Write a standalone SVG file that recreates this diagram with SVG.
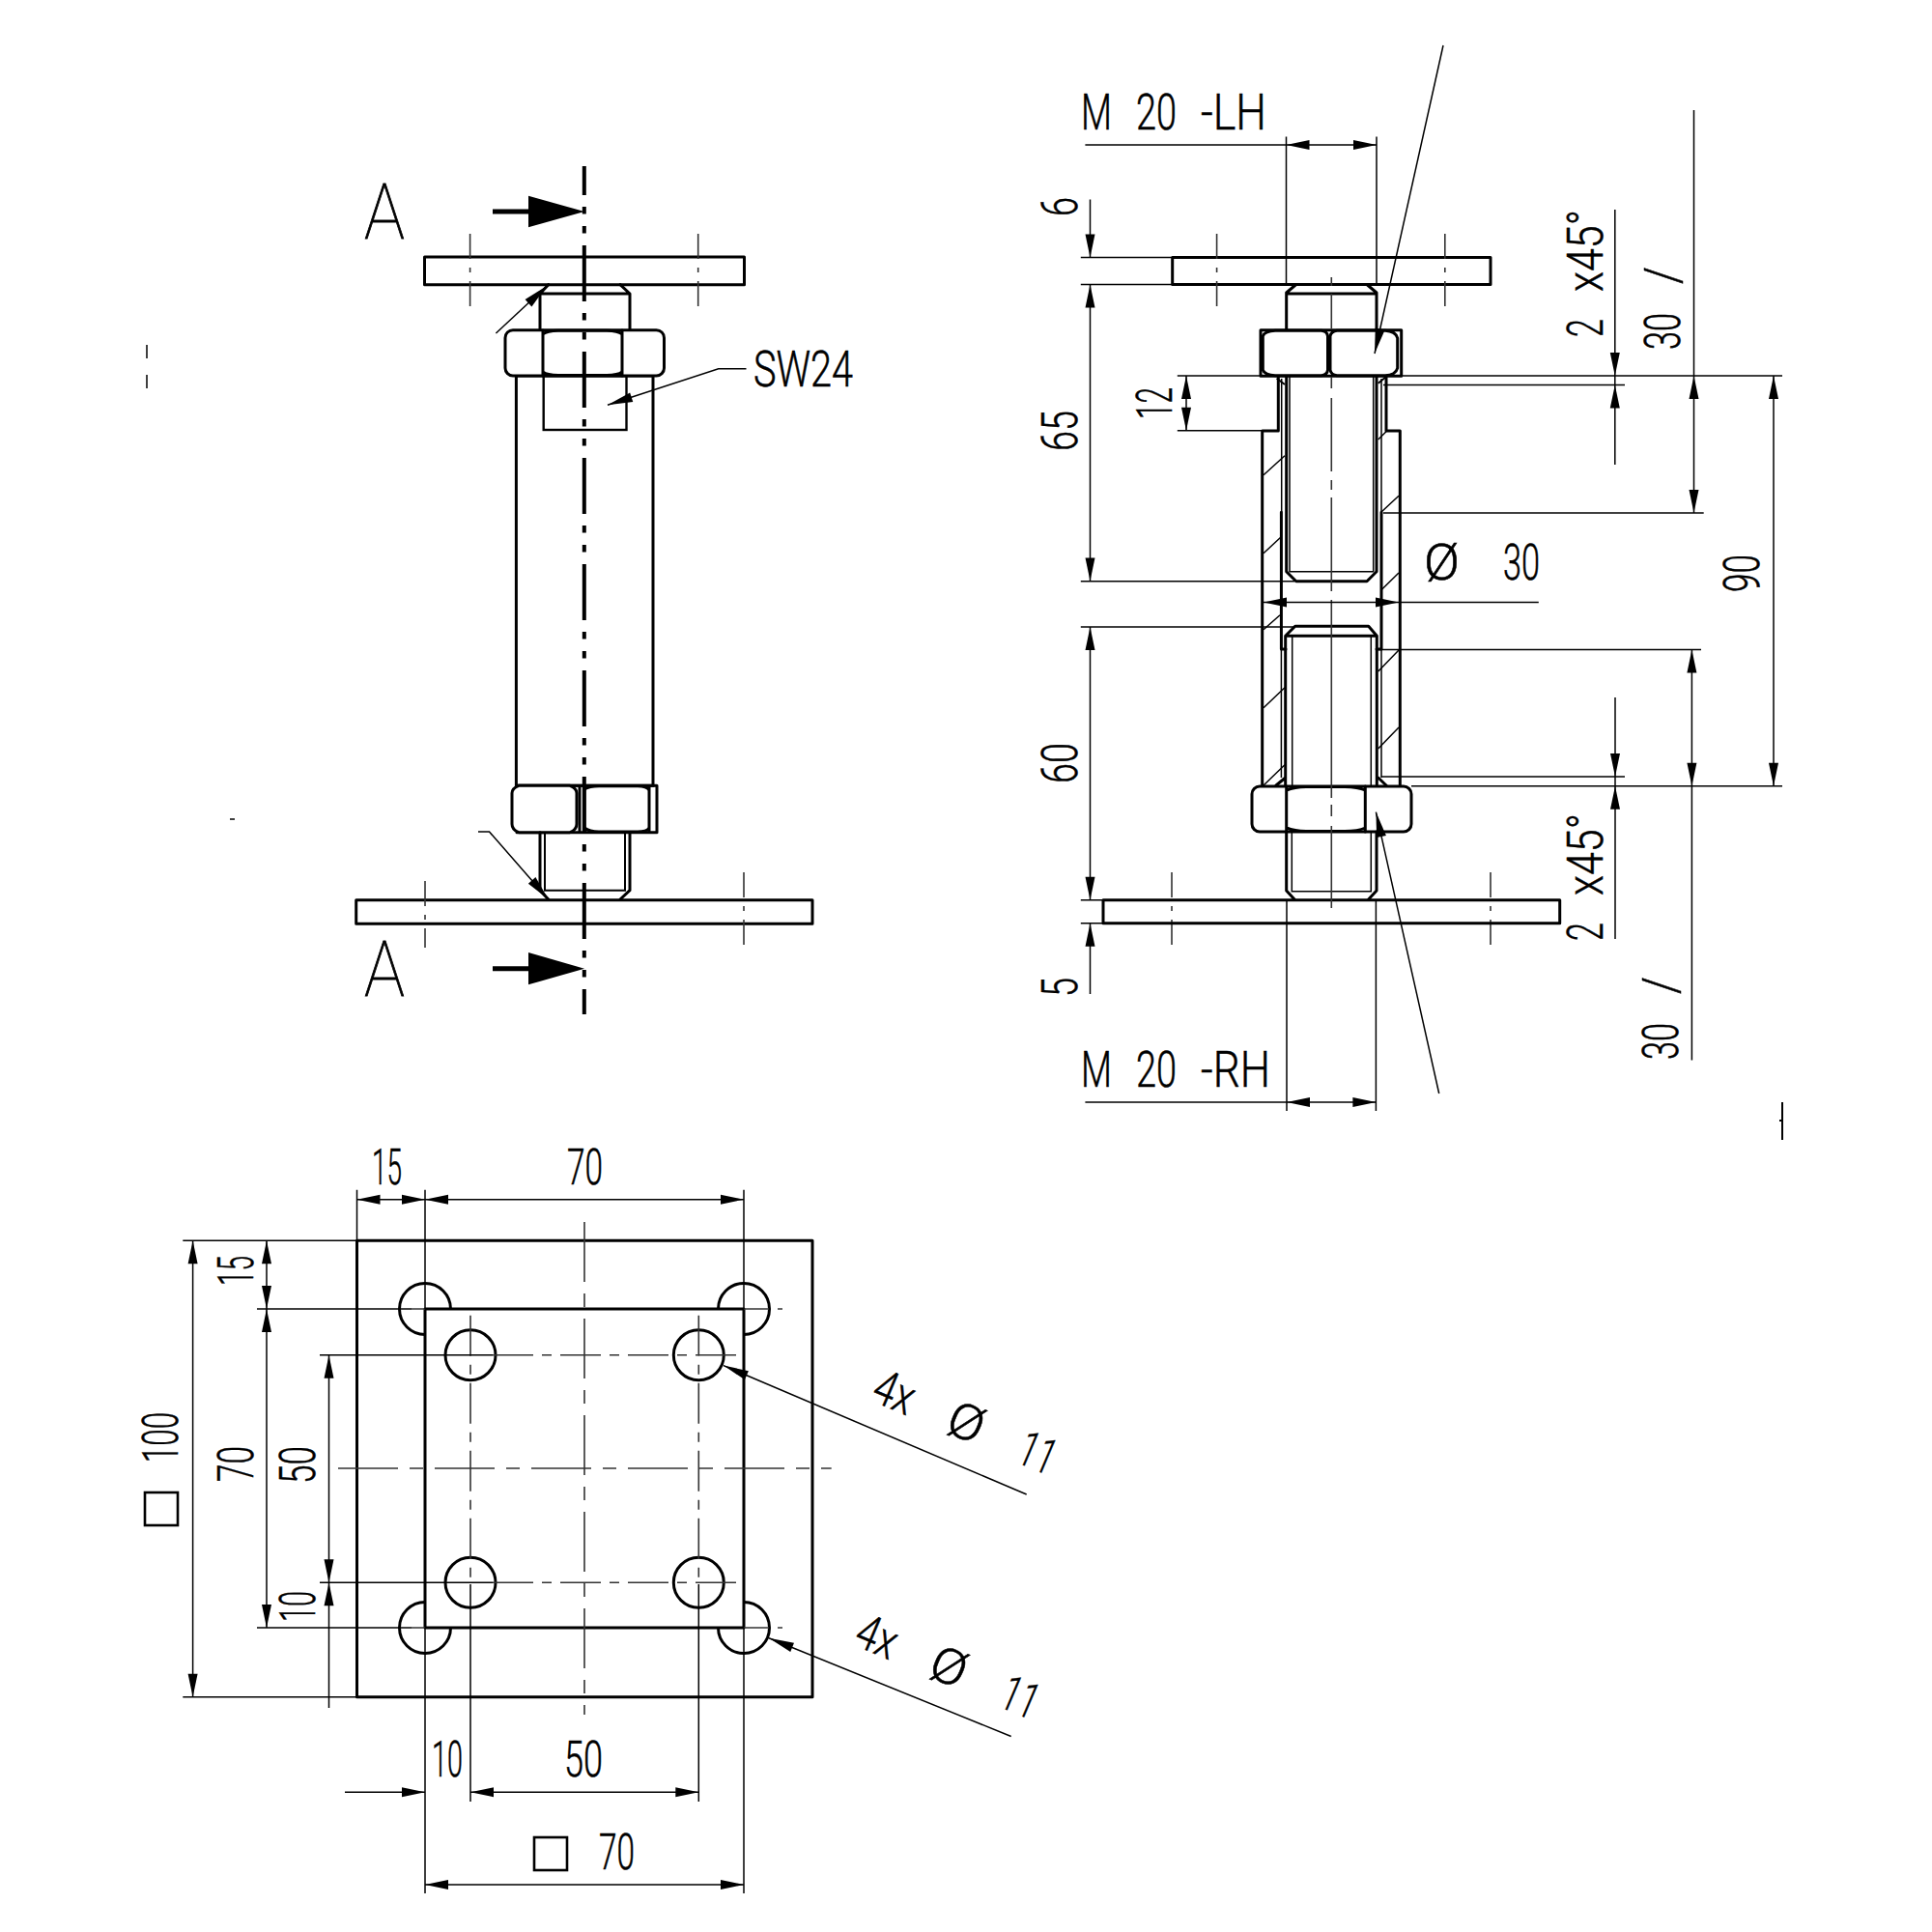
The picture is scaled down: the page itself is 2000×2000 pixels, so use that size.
<svg xmlns="http://www.w3.org/2000/svg" xmlns:xlink="http://www.w3.org/1999/xlink" width="2000" height="2000" viewBox="0 0 2000 2000">
<style>
.k{fill:none;stroke:#000;stroke-width:3;stroke-linejoin:round;stroke-linecap:round}
.w{fill:#fff;stroke:#000;stroke-width:3;stroke-linejoin:round}
.m{fill:none;stroke:#000;stroke-width:2}
.d{fill:none;stroke:#000;stroke-width:1.5}
.c{fill:none;stroke:#333;stroke-width:1.6;stroke-dasharray:62 12 14 12}
.s{fill:none;stroke:#333;stroke-width:1.6}
.h{fill:none;stroke:#333;stroke-width:1.6;stroke-dasharray:26 9 5 9}
.p{fill:none;stroke:#333;stroke-width:1.6;stroke-dasharray:42 9 10 9}
.axis{fill:none;stroke:#000;stroke-width:4;stroke-dasharray:58 12 7.5 12.5 7.5 12.5;stroke-dashoffset:28}
.a{fill:#000}
text{font-family:"Roboto","Liberation Sans",sans-serif;font-weight:300;font-size:51px;fill:#000;stroke:#000;stroke-width:.5}
.big{font-size:79px;font-weight:100;stroke-width:.8}
</style>
<defs>
<polygon id="ah" class="a" points="0,0 -24,-5 -24,5"/>
<polygon id="lh" class="a" points="0,0 -26,-5 -26,5"/>
</defs>

<g id="front-view">
<rect class="w" x="439.5" y="266" width="331" height="28.7"/>
<path class="k" d="M567.7,294.7 L559,304 L559,341.7 M642,294.7 L652,304 L652,341.7 M559,304 H652"/>
<rect class="m" x="534.4" y="389" width="141.6" height="424.3" style="stroke-width:3"/>
<rect class="m" x="562.7" y="389" width="85.8" height="56" style="stroke-width:2.4"/>
<g id="front-nut-top">
<rect class="w" x="523" y="341.7" width="164.5" height="47.3" rx="8"/>
<path class="k" d="M562,342 V389 M644,342 V389 M562,346 Q566,342.4 578,342.2 H628 Q640,342.4 644,346 M562,385 Q566,388.5 578,388.6 H628 Q640,388.5 644,385"/>
</g>
<g id="front-nut-bottom">
<path class="k" d="M534.4,813.3 H680 V861.7 H535"/>
<path class="w" d="M537,813.3 H590 Q597,816 597,821 V853 Q597,859 590,861.7 H537 Q530,859 530,853 V821 Q530,816 537,813.3 Z"/>
<path class="k" d="M600,814 V861 M605,814 V861 M672,814 V861 M605,817 Q610,814 620,813.8 H660 Q670,814 672,818 M605,857 Q610,861 620,861 H660 Q670,861 672,857"/>
</g>
<path class="k" d="M559,861.7 V921.7 L567.7,931 M652,861.7 V921.7 L642,931"/>
<path class="m" d="M564,861.7 V921.7 H647 V861.7"/>
<rect class="w" x="368.7" y="931.7" width="472.3" height="24.6"/>
<path class="h" d="M486.6,242 V324 M722.7,242 V324 M440,912 V981 M770,903 V981"/>
<line class="axis" x1="604.8" y1="172" x2="604.8" y2="1050"/>
<g id="section-marks">
<polygon class="a" points="547,202.7 605,219 547,235.3"/>
<line x1="510" y1="219" x2="550" y2="219" stroke="#000" stroke-width="5"/>
<polygon class="a" points="547,986 605,1002.7 547,1019.3"/>
<line x1="510" y1="1002.7" x2="550" y2="1002.7" stroke="#000" stroke-width="5"/>
<text class="big" transform="translate(377,247)" textLength="42" lengthAdjust="spacingAndGlyphs">A</text>
<text class="big" transform="translate(377,1031)" textLength="42" lengthAdjust="spacingAndGlyphs">A</text>
</g>
<path class="d" d="M772.5,381.7 H743.7 L629,419.3"/>
<use xlink:href="#lh" transform="translate(629,419.3) rotate(161.8)"/>
<text transform="translate(780,399.5)" textLength="103" lengthAdjust="spacingAndGlyphs">SW24</text>
<path class="d" d="M513.4,345 L566,296"/>
<use xlink:href="#lh" transform="translate(566,296) rotate(-43)"/>
<path class="d" d="M495,861 H506.5 L567.7,931"/>
<use xlink:href="#lh" transform="translate(567.7,931) rotate(49)"/>
</g>

<g id="stray-marks">
<path class="d" d="M152,357 V371 M152,388 V402 M238,848 H243"/>
<path class="m" d="M1845,1141 V1180 M1842,1160 H1846"/>
</g>

<g id="section-view">
<rect class="w" x="1213.7" y="266.6" width="329.3" height="27.9"/>
<path class="h" d="M1259.6,242 V324 M1495.8,242 V324 M1213,903 V981 M1543,903 V981"/>
<path class="k" d="M1341.7,294.5 L1331.7,303 V341 M1415,294.5 L1425,303 V341 M1331.7,304 H1425"/>
<path class="k" d="M1323.3,389 V446 H1306.7 V814 M1435,389 V446 H1449.3 V814"/>
<path class="m" d="M1321.7,391.7 L1330,398 M1435,390 L1426.7,396.7"/>
<path class="d" d="M1326.7,392 V530.3 M1430,392 V530.3 M1326.4,672 V805 M1430,672 V805"/>
<path class="k" d="M1326.4,530.3 V672 H1331 M1430,530.3 V672 H1425"/>
<path class="k" d="M1331.7,389 V591.7 L1341.7,601.7 H1415 L1425,591.7 V389"/>
<path class="d" d="M1335,389 V591.7 H1421.7 V389"/>
<path class="d" d="M1308,491.7 L1330,471.7 M1308,572.7 L1326,556 M1308,651.7 L1325,636.7 M1308,732.7 L1330,711.7 M1308,813 L1330,791.7 M1426.7,455 L1435,446.7 M1430,530 L1448,513.3 M1430.7,610 L1448,593 M1426.7,695 L1448,673 M1426.7,775 L1448,753"/>
<path class="k" d="M1330.7,814 V658.3 L1340.7,648.3 H1416.7 L1425.3,658.3 V814 M1331,658.3 H1425 M1321,813 L1330.7,805 M1435,813 L1426.7,805"/>
<path class="d" d="M1337.7,814 V658.3 M1419.3,658.3 V814"/>
<g id="section-nut-top">
<rect class="k" x="1305" y="341.7" width="145.7" height="47.6"/>
<path class="w" d="M1307.3,348 Q1309,343 1320,342.3 H1368 Q1374,343 1374.5,348 V383 Q1374,388 1368,388.8 H1320 Q1309,388 1307.3,383 Z"/>
<path class="w" d="M1377,348 Q1378,343 1384,342.3 H1434 Q1445,343 1446.7,350 V381 Q1445,388 1434,388.8 H1384 Q1378,388 1377,383 Z"/>
</g>
<g id="section-nut-bottom">
<rect class="w" x="1296" y="814" width="165" height="47" rx="8"/>
<path class="k" d="M1331.7,814 V861 M1413.3,814 V861 M1331.7,818 Q1340,814.6 1352,814.5 H1392 Q1406,814.6 1413.3,818 M1331.7,857 Q1340,860.4 1352,860.5 H1392 Q1406,860.4 1413.3,857"/>
</g>
<path class="k" d="M1331.7,861 V922 L1340,931 M1425,861 V922 L1416.7,931"/>
<path class="d" d="M1337.3,861 V922.7 H1419.3 V861"/>
<rect class="k" x="1142" y="931.7" width="472.7" height="24"/>
<path class="s" d="M1378.3,287 V296 M1378.3,304 V340 M1378.3,390 V402 M1378.3,412 V488 M1378.3,497 V507 M1378.3,515 V612 M1378.3,621 V826 M1378.3,833 V845 M1378.3,855 V940"/>
</g>

<g id="section-dimensions">
<path class="d" d="M1331.5,141.4 V296 M1425,141.4 V296 M1123.4,150 H1425"/>
<use xlink:href="#ah" transform="translate(1331.5,150) rotate(180)"/>
<use xlink:href="#ah" transform="translate(1425,150)"/>
<text transform="translate(1121,134)"><tspan x="-2" textLength="32" lengthAdjust="spacingAndGlyphs">M</tspan> <tspan x="55" textLength="42" lengthAdjust="spacingAndGlyphs">20</tspan> <tspan x="122" textLength="68" lengthAdjust="spacingAndGlyphs">-LH</tspan></text>
<path class="d" d="M1494,47 L1423,366"/>
<use xlink:href="#lh" transform="translate(1423,366) rotate(102.5)"/>
<path class="d" d="M1332,931 V1150 M1424.4,931 V1150 M1123.4,1141 H1424.4"/>
<use xlink:href="#ah" transform="translate(1332,1141) rotate(180)"/>
<use xlink:href="#ah" transform="translate(1424.4,1141)"/>
<text transform="translate(1121,1125)"><tspan x="-2" textLength="32" lengthAdjust="spacingAndGlyphs">M</tspan> <tspan x="55" textLength="42" lengthAdjust="spacingAndGlyphs">20</tspan> <tspan x="122" textLength="72" lengthAdjust="spacingAndGlyphs">-RH</tspan></text>
<path class="d" d="M1424.4,840.6 L1489.7,1132"/>
<use xlink:href="#lh" transform="translate(1424.4,840.6) rotate(-102.5)"/>

<path class="d" d="M1118.8,266.6 H1213.7 M1118.8,294.5 H1213.7 M1128.5,206.5 V266.6 M1128.5,294.5 V601.5 M1118.8,601.7 H1340 M1118.8,649 H1340 M1128.5,649 V931.7 M1118.8,931.7 H1142 M1118.8,955.7 H1142 M1128.5,955.7 V1029"/>
<use xlink:href="#ah" transform="translate(1128.5,266.6) rotate(90)"/>
<use xlink:href="#ah" transform="translate(1128.5,294.5) rotate(-90)"/>
<use xlink:href="#ah" transform="translate(1128.5,601.5) rotate(90)"/>
<use xlink:href="#ah" transform="translate(1128.5,649) rotate(-90)"/>
<use xlink:href="#ah" transform="translate(1128.5,931.7) rotate(90)"/>
<use xlink:href="#ah" transform="translate(1128.5,955.7) rotate(-90)"/>
<text transform="translate(1115,224) rotate(-90)" textLength="20" lengthAdjust="spacingAndGlyphs">6</text>
<text transform="translate(1115,467) rotate(-90)" textLength="42" lengthAdjust="spacingAndGlyphs">65</text>
<text transform="translate(1115,811) rotate(-90)" textLength="42" lengthAdjust="spacingAndGlyphs">60</text>
<text transform="translate(1115,1032) rotate(-90)" textLength="20" lengthAdjust="spacingAndGlyphs">5</text>

<path class="d" d="M1218.8,389 H1306 M1218.8,445.7 H1306 M1228,389 V445.7 M1450,389 H1845 M1461,813.8 H1845"/>
<use xlink:href="#ah" transform="translate(1228,389) rotate(-90)"/>
<use xlink:href="#ah" transform="translate(1228,445.7) rotate(90)"/>
<text transform="translate(1213,434) rotate(-90)" textLength="33" lengthAdjust="spacingAndGlyphs">12</text>

<path class="d" d="M1836,389 V813.8"/>
<use xlink:href="#ah" transform="translate(1836,389) rotate(-90)"/>
<use xlink:href="#ah" transform="translate(1836,813.8) rotate(90)"/>
<text transform="translate(1821,613) rotate(-90)" textLength="39" lengthAdjust="spacingAndGlyphs">90</text>

<path class="d" d="M1753.5,113.9 V531 M1432,531 H1763.7"/>
<use xlink:href="#ah" transform="translate(1753.5,389) rotate(-90)"/>
<use xlink:href="#ah" transform="translate(1753.5,531) rotate(90)"/>
<text transform="translate(1739,362) rotate(-90)"><tspan x="0" textLength="38" lengthAdjust="spacingAndGlyphs">30</tspan> <tspan x="68" textLength="18" lengthAdjust="spacingAndGlyphs">/</tspan></text>

<path class="d" d="M1751.4,672.6 V1097.5 M1427,672.6 H1761"/>
<use xlink:href="#ah" transform="translate(1751.4,672.6) rotate(-90)"/>
<use xlink:href="#ah" transform="translate(1751.4,813.8) rotate(90)"/>
<text transform="translate(1737,1097) rotate(-90)"><tspan x="0" textLength="38" lengthAdjust="spacingAndGlyphs">30</tspan> <tspan x="68" textLength="18" lengthAdjust="spacingAndGlyphs">/</tspan></text>

<path class="d" d="M1671.8,217 V481 M1432,398.6 H1682"/>
<use xlink:href="#ah" transform="translate(1671.8,389) rotate(90)"/>
<use xlink:href="#ah" transform="translate(1671.8,398.6) rotate(-90)"/>
<text transform="translate(1658.5,349) rotate(-90)"><tspan x="0" textLength="19" lengthAdjust="spacingAndGlyphs">2</tspan> <tspan x="47" textLength="85" lengthAdjust="spacingAndGlyphs">x45°</tspan></text>

<path class="d" d="M1672,722 V972 M1430,804 H1682"/>
<use xlink:href="#ah" transform="translate(1672,804) rotate(90)"/>
<use xlink:href="#ah" transform="translate(1672,813.8) rotate(-90)"/>
<text transform="translate(1658.5,974) rotate(-90)"><tspan x="0" textLength="19" lengthAdjust="spacingAndGlyphs">2</tspan> <tspan x="47" textLength="85" lengthAdjust="spacingAndGlyphs">x45°</tspan></text>

<path class="d" d="M1308,623.6 H1592.8"/>
<use xlink:href="#ah" transform="translate(1308,623.6) rotate(180)"/>
<use xlink:href="#ah" transform="translate(1448,623.6)"/>
<text transform="translate(1474,600)"><tspan x="0" textLength="37" lengthAdjust="spacingAndGlyphs">Ø</tspan> <tspan x="82" textLength="38" lengthAdjust="spacingAndGlyphs">30</tspan></text>
</g>

<g id="plan-view">
<rect class="k" x="369.5" y="1284.3" width="471.5" height="472.4"/>
<g class="k">
<circle cx="440" cy="1355" r="26.5"/><circle cx="770" cy="1355" r="26.5"/>
<circle cx="440" cy="1685" r="26.5"/><circle cx="770" cy="1685" r="26.5"/>
</g>
<rect class="w" x="440" y="1355" width="330" height="330"/>
<g class="k">
<circle cx="487" cy="1402.7" r="26"/><circle cx="723.3" cy="1402.7" r="26"/>
<circle cx="487" cy="1638.3" r="26"/><circle cx="723.3" cy="1638.3" r="26"/>
</g>
<path class="c" d="M605,1265 V1775 M350,1520 H860.7"/>
<path class="p" d="M487,1361.7 V1640 M723.3,1361.7 V1640 M510,1402.7 H763.3 M510,1638.3 H763.3"/>
<path class="h" d="M426,1355 H440 M770,1355 H810 M426,1685 H440 M770,1685 H810"/>
</g>

<g id="plan-dimensions">
<path class="d" d="M487,1640 V1865 M723.3,1640 V1865 M331,1402.7 H510 M331,1638.3 H510"/>
<path class="d" d="M369.5,1231.7 V1284 M440,1231.7 V1355 M770,1231.7 V1355 M440,1685 V1960 M770,1685 V1960"/>
<path class="d" d="M369.5,1241.7 H770 M189.3,1284.3 H369.5 M189.3,1756.7 H369.5 M266,1355 H426 M266,1685 H426"/>
<use xlink:href="#ah" transform="translate(369.5,1241.7) rotate(180)"/>
<use xlink:href="#ah" transform="translate(440,1241.7)"/>
<use xlink:href="#ah" transform="translate(440,1241.7) rotate(180)"/>
<use xlink:href="#ah" transform="translate(770,1241.7)"/>
<text transform="translate(385,1226)" textLength="31" lengthAdjust="spacingAndGlyphs">15</text>
<text transform="translate(587,1226)" textLength="37" lengthAdjust="spacingAndGlyphs">70</text>
<path class="d" d="M199.6,1284.3 V1756.7 M276,1284.3 V1685 M340.5,1402.7 V1768"/>
<use xlink:href="#ah" transform="translate(199.6,1284.3) rotate(-90)"/>
<use xlink:href="#ah" transform="translate(199.6,1756.7) rotate(90)"/>
<use xlink:href="#ah" transform="translate(276,1284.3) rotate(-90)"/>
<use xlink:href="#ah" transform="translate(276,1355) rotate(90)"/>
<use xlink:href="#ah" transform="translate(276,1355) rotate(-90)"/>
<use xlink:href="#ah" transform="translate(276,1685) rotate(90)"/>
<use xlink:href="#ah" transform="translate(340.5,1402.7) rotate(-90)"/>
<use xlink:href="#ah" transform="translate(340.5,1638.3) rotate(90)"/>
<use xlink:href="#ah" transform="translate(340.5,1638.3) rotate(-90)"/>
<rect class="m" x="150" y="1545" width="34" height="34" style="stroke-width:2.6"/>
<text transform="translate(184,1514) rotate(-90)" textLength="52" lengthAdjust="spacingAndGlyphs">100</text>
<text transform="translate(262,1331) rotate(-90)" textLength="31" lengthAdjust="spacingAndGlyphs">15</text>
<text transform="translate(262,1534) rotate(-90)" textLength="37" lengthAdjust="spacingAndGlyphs">70</text>
<text transform="translate(326,1536) rotate(-90)" textLength="39" lengthAdjust="spacingAndGlyphs">50</text>
<text transform="translate(326,1679) rotate(-90)" textLength="32" lengthAdjust="spacingAndGlyphs">10</text>
<path class="d" d="M357,1855.3 H440 M487,1855.3 H723.3 M440,1951 H770"/>
<use xlink:href="#ah" transform="translate(440,1855.3)"/>
<use xlink:href="#ah" transform="translate(487,1855.3) rotate(180)"/>
<use xlink:href="#ah" transform="translate(723.3,1855.3)"/>
<use xlink:href="#ah" transform="translate(440,1951) rotate(180)"/>
<use xlink:href="#ah" transform="translate(770,1951)"/>
<text transform="translate(447,1839)" textLength="32" lengthAdjust="spacingAndGlyphs">10</text>
<text transform="translate(584,1839)" textLength="40" lengthAdjust="spacingAndGlyphs">50</text>
<rect class="m" x="553" y="1902" width="34" height="34" style="stroke-width:2.6"/>
<text transform="translate(620,1935)" textLength="37" lengthAdjust="spacingAndGlyphs">70</text>
<path class="d" d="M749,1413.6 L1062.7,1547"/>
<use xlink:href="#lh" transform="translate(749,1413.6) rotate(203)"/>
<text transform="translate(900,1449) rotate(23)"><tspan x="0" textLength="42" lengthAdjust="spacingAndGlyphs">4x</tspan> <tspan x="83" textLength="37" lengthAdjust="spacingAndGlyphs">Ø</tspan> <tspan x="163" textLength="38" lengthAdjust="spacingAndGlyphs">11</tspan></text>
<path class="d" d="M796,1695.7 L1046.7,1797.5"/>
<use xlink:href="#lh" transform="translate(796,1695.7) rotate(202)"/>
<text transform="translate(882,1702) rotate(23)"><tspan x="0" textLength="42" lengthAdjust="spacingAndGlyphs">4x</tspan> <tspan x="83" textLength="37" lengthAdjust="spacingAndGlyphs">Ø</tspan> <tspan x="163" textLength="38" lengthAdjust="spacingAndGlyphs">11</tspan></text>
</g>
</svg>
